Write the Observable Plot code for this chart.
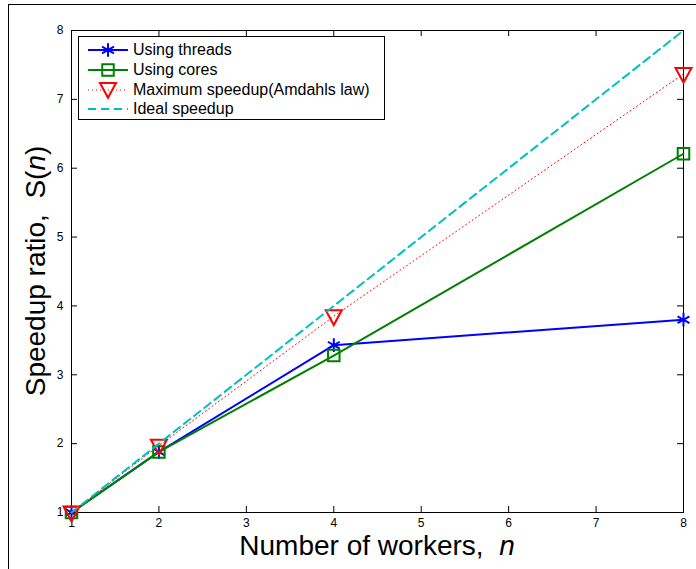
<!DOCTYPE html>
<html>
<head>
<meta charset="utf-8">
<script src="https://cdn.jsdelivr.net/npm/d3@7"></script>
<script src="https://cdn.jsdelivr.net/npm/@observablehq/plot@0.6"></script>
<style>
  html, body { margin: 0; padding: 0; background: #fff; }
  #wrap { position: relative; width: 696px; height: 569px; overflow: hidden; font-family: "Liberation Sans", Arial, sans-serif; }
  #outer { position: absolute; left: 8px; top: 4px; width: 800px; height: 700px; border-left: 1px solid #000; border-top: 1px solid #000; }
  #legend { position: absolute; left: 78px; top: 36px; width: 307px; height: 84px; border: 1px solid #000; background: #fff; box-sizing: border-box; }
  .row { position: absolute; left: 0; height: 20px; display: flex; align-items: center; }
  .row svg { display: block; }
  .row span { font-size: 16px; color: #000; margin-left: 4px; white-space: nowrap; }
</style>
</head>
<body>
<div id="wrap">
  <div id="outer"></div>
  <div id="chart"></div>
  <div id="legend"></div>
</div>
<script>
// ---- data ----
const workers = [1, 2, 4, 8];
const threads = [1, 1.88, 3.43, 3.80];
const cores   = [1, 1.88, 3.28, 6.21];
const amdahl  = [1, 1.97, 3.85, 7.37];
const ideal   = [1, 2, 4, 8];
const xTicks = [1, 2, 3, 4, 5, 6, 7, 8];
const yTicks = [1, 2, 3, 4, 5, 6, 7, 8];
const seriesNames = ["Using threads", "Using cores", "Maximum speedup(Amdahls law)", "Ideal speedup"];

const rows = (vals) => workers.map((n, i) => ({n, s: vals[i]}));
const dThreads = rows(threads), dCores = rows(cores), dAmdahl = rows(amdahl), dIdeal = rows(ideal);

const BLUE = "#0000ff", GREEN = "#008000", RED = "#ff0000", CYAN = "#00bfbf";

// inverted triangle symbol
const triDown = {
  draw(ctx, size) {
    const r = Math.sqrt(size / Math.PI);
    ctx.moveTo(-r, -0.75 * r);
    ctx.lineTo(r, -0.75 * r);
    ctx.lineTo(0, 1.1 * r);
    ctx.closePath();
  }
};

const W = 696, H = 569;
const mL = 71, mR = 13, mT = 30, mB = 57;
const innerH = H - mT - mB, innerW = W - mL - mR;
const tl = 6;

const chart = Plot.plot({
  width: W, height: H,
  marginLeft: mL, marginRight: mR, marginTop: mT, marginBottom: mB,
  style: {fontFamily: "'Liberation Sans', Arial, sans-serif", fontSize: "12px", color: "#000", background: "transparent"},
  x: {domain: [1, 8], label: null},
  y: {domain: [1, 8], label: null},
  marks: [
    Plot.axisX(xTicks, {tickSize: 0, tickPadding: 6, fontSize: 12, fill: "#000", tickFormat: d3.format("d")}),
    Plot.axisY(yTicks, {tickSize: 0, tickPadding: 8, fontSize: 12, fill: "#000", tickFormat: d3.format("d")}),
    Plot.tickX(xTicks, {x: d => d, insetTop: innerH - tl, stroke: "#000"}),
    Plot.tickX(xTicks, {x: d => d, insetBottom: innerH - tl, stroke: "#000"}),
    Plot.tickY(yTicks, {y: d => d, insetRight: innerW - tl, stroke: "#000"}),
    Plot.tickY(yTicks, {y: d => d, insetLeft: innerW - tl, stroke: "#000"}),
    Plot.frame({stroke: "#000", strokeWidth: 1}),
    Plot.line(dThreads, {x: "n", y: "s", stroke: BLUE, strokeWidth: 2}),
    Plot.dot(dThreads, {x: "n", y: "s", symbol: "asterisk", r: 6.5, stroke: BLUE, strokeWidth: 2}),
    Plot.line(dCores, {x: "n", y: "s", stroke: GREEN, strokeWidth: 2}),
    Plot.dot(dCores, {x: "n", y: "s", symbol: "square", r: 6.5, stroke: GREEN, strokeWidth: 2, fill: "none"}),
    Plot.line(dAmdahl, {x: "n", y: "s", stroke: RED, strokeWidth: 1, strokeDasharray: "1,3"}),
    Plot.dot(dAmdahl, {x: "n", y: "s", symbol: triDown, r: 8, stroke: RED, strokeWidth: 2, fill: "none"}),
    Plot.line(dIdeal, {x: "n", y: "s", stroke: CYAN, strokeWidth: 2, strokeDasharray: "8,5"})
  ]
});
document.getElementById("chart").appendChild(chart);

// axis labels with italic variable
const svg = d3.select(chart);
const xl = svg.append("text")
  .attr("x", mL + innerW / 2).attr("y", 555)
  .attr("text-anchor", "middle")
  .attr("font-size", 28).attr("fill", "#000")
  .attr("font-family", "'Liberation Sans', Arial, sans-serif")
  .attr("xml:space", "preserve");
xl.append("tspan").text("Number of workers,  ");
xl.append("tspan").attr("font-style", "italic").text("n");

const yl = svg.append("text")
  .attr("transform", `translate(45,${mT + innerH / 2}) rotate(-90)`)
  .attr("text-anchor", "middle")
  .attr("font-size", 28).attr("fill", "#000")
  .attr("font-family", "'Liberation Sans', Arial, sans-serif")
  .attr("xml:space", "preserve");
yl.append("tspan").text("Speedup ratio,  S(");
yl.append("tspan").attr("font-style", "italic").text("n");
yl.append("tspan").text(")");

// legend
const legend = d3.select("#legend");
const samples = [
  {name: seriesNames[0], color: BLUE, width: 2, dash: null, marker: "asterisk"},
  {name: seriesNames[1], color: GREEN, width: 2, dash: null, marker: "square"},
  {name: seriesNames[2], color: RED, width: 1, dash: "1,3", marker: "tri"},
  {name: seriesNames[3], color: CYAN, width: 2, dash: "8,5", marker: null}
];
const rowTops = [3, 23, 43, 62];
samples.forEach((s, i) => {
  const row = legend.append("div").attr("class", "row").style("top", rowTops[i] + "px").style("left", "8px");
  const sv = row.append("svg").attr("width", 42).attr("height", 20);
  sv.append("line").attr("x1", 1).attr("x2", 41).attr("y1", 10).attr("y2", 10)
    .attr("stroke", s.color).attr("stroke-width", s.width)
    .attr("stroke-dasharray", s.dash);
  if (s.marker === "asterisk") {
    sv.append("path").attr("transform", "translate(21,10)")
      .attr("d", d3.symbol(d3.symbolAsterisk, Math.PI * 6.5 * 6.5)())
      .attr("stroke", s.color).attr("stroke-width", 2).attr("fill", "none");
  } else if (s.marker === "square") {
    sv.append("path").attr("transform", "translate(21,10)")
      .attr("d", d3.symbol(d3.symbolSquare, Math.PI * 6.5 * 6.5)())
      .attr("stroke", s.color).attr("stroke-width", 2).attr("fill", "none");
  } else if (s.marker === "tri") {
    sv.append("path").attr("transform", "translate(21,9)")
      .attr("d", d3.symbol(triDown, Math.PI * 8 * 8)())
      .attr("stroke", s.color).attr("stroke-width", 2).attr("fill", "none");
  }
  row.append("span").text(s.name);
});
</script>
</body>
</html>
